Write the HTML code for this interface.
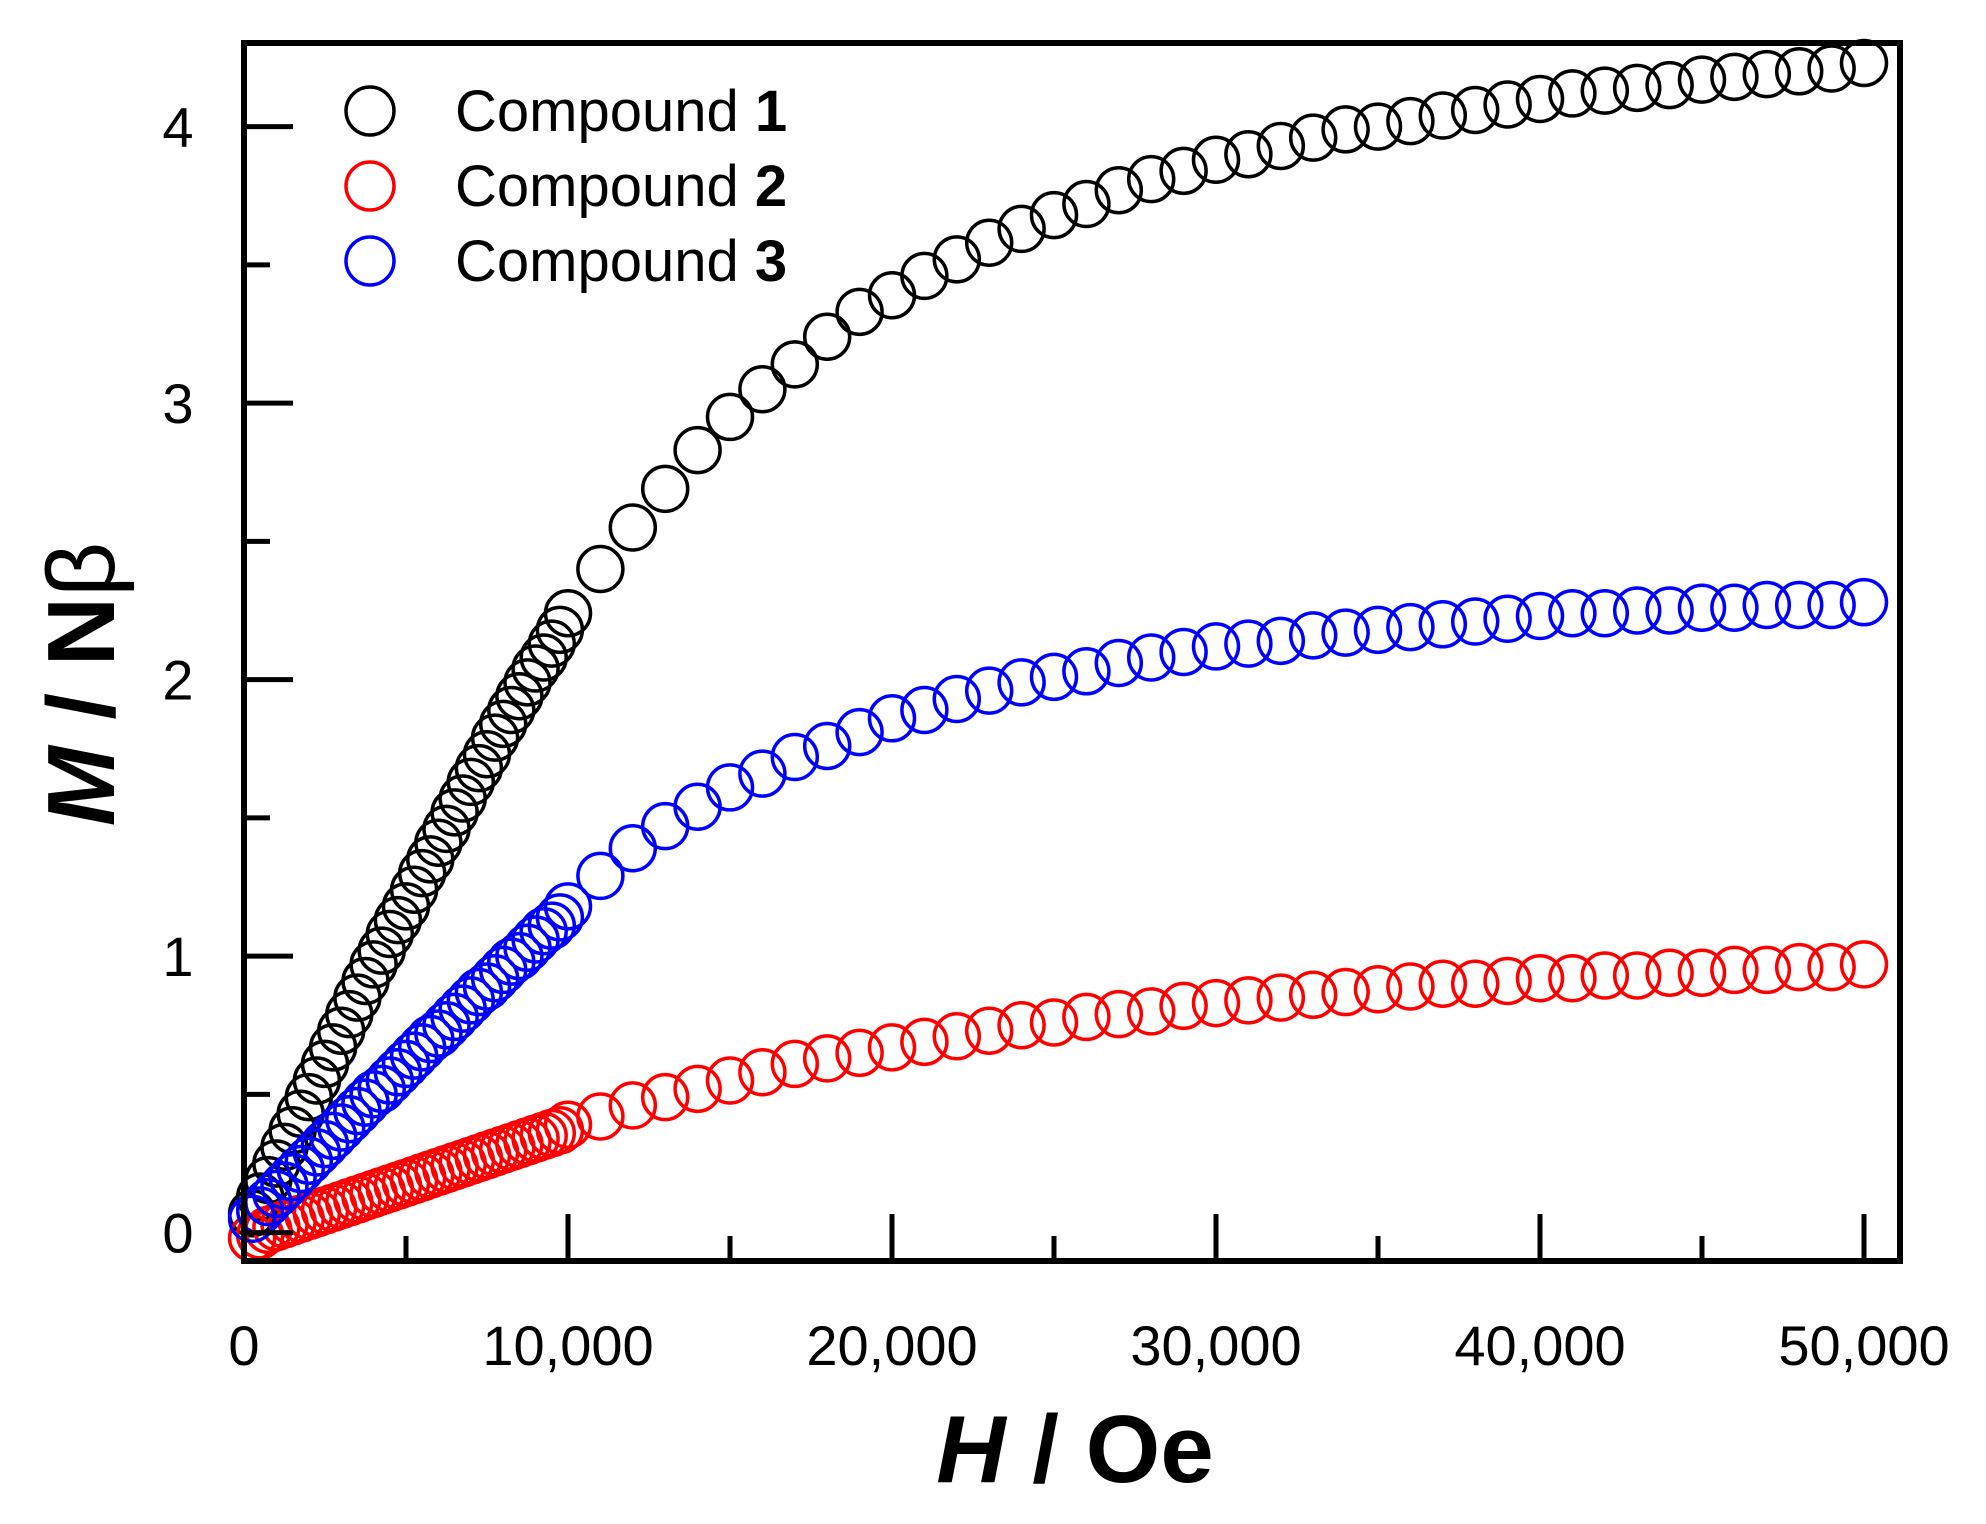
<!DOCTYPE html>
<html><head><meta charset="utf-8"><style>
html,body{margin:0;padding:0;background:#fff;}
svg{display:block;font-family:"Liberation Sans",Arial,sans-serif;}
</style></head><body>
<svg id="chart" width="1986" height="1524" viewBox="0 0 1986 1524">
<g id="marks"></g>
<rect x="244" y="43" width="1656" height="1218" fill="none" stroke="#000" stroke-width="6"/>
<g id="axes"></g>
<text x="1075" y="1482" font-size="96" font-weight="bold" text-anchor="middle"><tspan font-style="italic">H</tspan> / Oe</text>
<text transform="translate(114,684) rotate(-90)" font-size="96" font-weight="bold" text-anchor="middle"><tspan font-style="italic">M</tspan> / N<tspan font-weight="normal">β</tspan></text>
<g>
<g><circle cx="370" cy="111" r="24" fill="none" stroke="#000" stroke-width="3.5"/><text x="455" y="131" font-size="58">Compound <tspan font-weight="bold">1</tspan></text></g>
<g><circle cx="370" cy="186" r="24" fill="none" stroke="#f00" stroke-width="3.5"/><text x="455" y="206" font-size="58">Compound <tspan font-weight="bold">2</tspan></text></g>
<g><circle cx="370" cy="261" r="24" fill="none" stroke="#00f" stroke-width="3.5"/><text x="455" y="281" font-size="58">Compound <tspan font-weight="bold">3</tspan></text></g>
</g>
</svg>
<script>
const hLow=[250,500,750,1000,1250,1500,1750,2000,2250,2500,2750,3000,3250,3500,3750,4000,4250,4500,4750,5000,5250,5500,5750,6000,6250,6500,6750,7000,7250,7500,7750,8000,8250,8500,8750,9000,9250,9500,9750];
const hHigh=[10000,11000,12000,13000,14000,15000,16000,17000,18000,19000,20000,21000,22000,23000,24000,25000,26000,27000,28000,29000,30000,31000,32000,33000,34000,35000,36000,37000,38000,39000,40000,41000,42000,43000,44000,45000,46000,47000,48000,49000,50000];
const c1Low=[0.07,0.13,0.19,0.25,0.31,0.37,0.43,0.49,0.55,0.61,0.67,0.73,0.79,0.85,0.91,0.97,1.02,1.08,1.13,1.18,1.24,1.30,1.35,1.41,1.46,1.52,1.57,1.63,1.68,1.73,1.79,1.84,1.89,1.94,1.99,2.04,2.08,2.13,2.18];
const c1High=[2.24,2.40,2.55,2.69,2.83,2.95,3.05,3.14,3.24,3.33,3.39,3.46,3.52,3.58,3.63,3.68,3.72,3.77,3.81,3.84,3.88,3.90,3.93,3.96,3.99,4.00,4.02,4.04,4.06,4.08,4.10,4.12,4.13,4.14,4.15,4.17,4.18,4.19,4.20,4.21,4.23];
const c2Low=[-0.02,-0.01,0.01,0.02,0.03,0.04,0.05,0.06,0.07,0.08,0.09,0.10,0.11,0.12,0.13,0.14,0.15,0.16,0.17,0.18,0.19,0.20,0.21,0.22,0.23,0.24,0.25,0.26,0.27,0.28,0.29,0.30,0.31,0.32,0.33,0.34,0.35,0.36,0.37];
const c2High=[0.39,0.42,0.46,0.49,0.52,0.55,0.58,0.61,0.63,0.65,0.67,0.69,0.71,0.73,0.75,0.76,0.78,0.79,0.80,0.82,0.83,0.84,0.85,0.86,0.87,0.88,0.89,0.90,0.90,0.91,0.92,0.92,0.93,0.93,0.94,0.94,0.95,0.95,0.96,0.96,0.97];
const c3Low=[0.05,0.08,0.11,0.14,0.17,0.20,0.23,0.26,0.29,0.32,0.35,0.38,0.41,0.44,0.47,0.50,0.52,0.55,0.58,0.61,0.64,0.67,0.70,0.72,0.75,0.78,0.81,0.84,0.87,0.89,0.92,0.95,0.98,1.00,1.03,1.06,1.09,1.11,1.14];
const c3High=[1.18,1.29,1.39,1.47,1.54,1.61,1.66,1.72,1.76,1.81,1.86,1.89,1.93,1.96,1.99,2.01,2.03,2.06,2.08,2.10,2.12,2.13,2.14,2.16,2.17,2.18,2.19,2.20,2.21,2.22,2.23,2.24,2.24,2.25,2.25,2.26,2.26,2.27,2.27,2.27,2.28];
const xTicks=[0,10000,20000,30000,40000,50000];
const xTickLabels=["0","10,000","20,000","30,000","40,000","50,000"];
const yTicks=[0,1,2,3,4];
const yTickLabels=["0","1","2","3","4"];

const NS="http://www.w3.org/2000/svg";
function xs(v){return 244+v*(324/10000);}
function ys(v){return 1232.6-v*276.5;}
const marks=document.getElementById('marks');
const axes=document.getElementById('axes');
function series(hs,vs,color,name){
  const g=document.createElementNS(NS,'g');
  
  
  for(let i=0;i<hs.length;i++){
    const c=document.createElementNS(NS,'circle');
    c.setAttribute('cx',xs(hs[i]));c.setAttribute('cy',ys(vs[i]));c.setAttribute('r',22.5);
    c.setAttribute('fill','none');c.setAttribute('stroke',color);c.setAttribute('stroke-width',3.5);
    
    
    g.appendChild(c);
  }
  marks.appendChild(g);
}
series(hLow.concat(hHigh),c1Low.concat(c1High),'#000','series-compound-1');
series(hLow.concat(hHigh),c2Low.concat(c2High),'#f00','series-compound-2');
series(hLow.concat(hHigh),c3Low.concat(c3High),'#00f','series-compound-3');
function line(x1,y1,x2,y2,name){
  const l=document.createElementNS(NS,'line');
  l.setAttribute('x1',x1);l.setAttribute('y1',y1);l.setAttribute('x2',x2);l.setAttribute('y2',y2);
  l.setAttribute('stroke','#000');l.setAttribute('stroke-width',5);
  
  
  axes.appendChild(l);
}
function text(x,y,s,anchor,name){
  const t=document.createElementNS(NS,'text');
  t.setAttribute('x',x);t.setAttribute('y',y);t.setAttribute('font-size',56);t.setAttribute('text-anchor',anchor);
  t.textContent=s;
  
  
  axes.appendChild(t);
}
xTicks.forEach((v,i)=>{
  line(xs(v),1261,xs(v),1214,'x-major-tick');
  if(i<xTicks.length-1) line(xs(v+5000),1261,xs(v+5000),1236,'x-minor-tick');
  text(xs(v),1365,xTickLabels[i],'middle','x-tick-label');
});
yTicks.forEach((v,i)=>{
  line(244,ys(v),293,ys(v),'y-major-tick');
  line(244,ys(v+0.5),270,ys(v+0.5),'y-minor-tick');
  text(178,ys(v)+20,yTickLabels[i],'middle','y-tick-label');
});
</script>
</body></html>
